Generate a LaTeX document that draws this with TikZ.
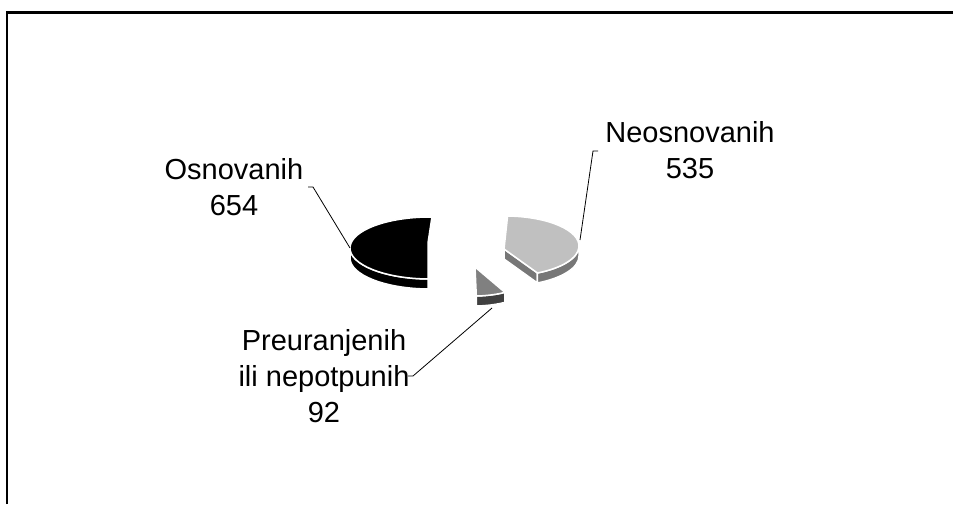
\documentclass[tikz,border=0pt]{standalone}
\usepackage{fontspec}
\setmainfont{Liberation Sans}
\usepackage{tikz}
\usetikzlibrary{calc}
\definecolor{lightslice}{HTML}{C0C0C0}
\definecolor{lightside}{HTML}{777777}
\definecolor{darkslice}{HTML}{808080}
\definecolor{darkside}{HTML}{404040}
\tikzset{face/.style={draw=white,line width=1.5pt,line join=round},
  lbl/.style={align=center,font=\fontsize{29}{36}\selectfont,inner sep=0pt},
  leader/.style={line width=0.8pt}}

\begin{document}
\begin{tikzpicture}[x=1pt,y=-1pt] %pixel coordinates
      \useasboundingbox (0,0) rectangle (953,504);
      \draw [line width=2.5pt] (7,504) -- (7,12.5) -- (953,12.5);

      % Osnovanih
      \coordinate (bc) at (430,248);
      \coordinate (bp) at (428,243);
      \path [fill=black,face] ($(bc)+(91.4:80 and 31)$) arc [start angle=91.4,end angle=180,x radius=80,y radius=31]
        -- ++(0,10) arc [start angle=180,end angle=91.4,x radius=80,y radius=31] -- cycle;
      \path [fill=black,face] (bp) -- ($(bc)+(91.4:80 and 31)$)
        arc [start angle=91.4,end angle=271.4,x radius=80,y radius=31] -- cycle;

      % Neosnovanih
      \coordinate (lc) at (505,246);
      \coordinate (lp) at (504,249);
      \path [fill=lightside,face] (lp) -- ($(lc)+(64:74 and 30)$) -- ++(0,10) -- ($(lp)+(0,10)$) -- cycle;
      \path [fill=lightside,face] ($(lc)+(0:74 and 30)$) arc [start angle=0,end angle=64,x radius=74,y radius=30]
        -- ++(0,10) arc [start angle=64,end angle=0,x radius=74,y radius=30] -- cycle;
      \path [fill=lightslice,face] (lp) -- ($(lc)+(-88:74 and 30)$)
        arc [start angle=-88,end angle=64,x radius=74,y radius=30] -- cycle;

      % Preuranjenih
      \coordinate (dc) at (474,265);
      \coordinate (dp) at (475,267);
      \path [fill=darkside,face] ($(dc)+(62:66 and 31)$) arc [start angle=62,end angle=88,x radius=66,y radius=31]
        -- ++(0,10) arc [start angle=88,end angle=62,x radius=66,y radius=31] -- cycle;
      \path [fill=darkslice,face] (dp) -- ($(dc)+(88:66 and 31)$)
        arc [start angle=88,end angle=62,x radius=66,y radius=31] -- cycle;

      % labels
      \node [lbl] (osn) at (234,187) {Osnovanih\\654};
      \node [lbl] (neo) at (690,150) {Neosnovanih\\535};
      \node [lbl] (pre) at (324,376) {Preuranjenih\\ili nepotpunih\\92};

      \coordinate (osnA) at (308,187);
      \coordinate (osnB) at (313,187);
      \coordinate (osnT) at (350,248);
      \coordinate (neoA) at (598,151);
      \coordinate (neoB) at (593,151);
      \coordinate (neoT) at (580,240);
      \coordinate (preA) at (408,376);
      \coordinate (preB) at (413,376);
      \coordinate (preT) at (492,308);
      \draw [leader] (osnA) -- (osnB) -- (osnT);
      \draw [leader] (neoA) -- (neoB) -- (neoT);
      \draw [leader] (preA) -- (preB) -- (preT);
    \end{tikzpicture}
\end{document}
